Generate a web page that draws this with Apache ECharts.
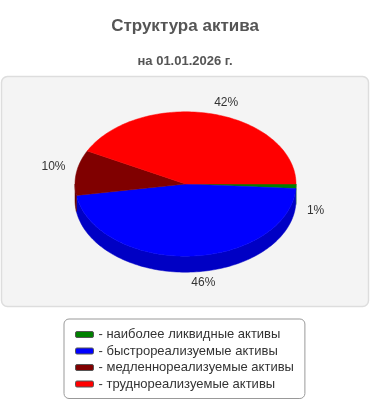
<!DOCTYPE html>
<html><head><meta charset="utf-8">
<script src="https://cdn.jsdelivr.net/npm/echarts@6/dist/echarts.min.js"></script>
<style>html,body{margin:0;padding:0;background:#fff}#c{width:370px;height:400px}</style>
</head><body><div id="c"></div>
<script>
const titleText = 'Структура актива';
const subtitleText = 'на 01.01.2026 г.';
const categories = ['наиболее ликвидные активы', 'быстрореализуемые активы', 'медленнореализуемые активы', 'труднореализуемые активы'];
const values = [1, 46, 10, 42];

const topColors = ['#008000', '#0000ff', '#800000', '#ff0000'];
const sideColors = ['#006400', '#0000c4', '#640000', '#c40000'];
const FONT = '"Liberation Sans", Arial, sans-serif';

const total = values.reduce((a, b) => a + b, 0);
const geo = { cx: 185.5, cy: 184, rx: 110.5, ry: 72.2, depth: 16 };

function pt(deg, dy) {
  const r = deg * Math.PI / 180;
  return [geo.cx + geo.rx * Math.cos(r), geo.cy + geo.ry * Math.sin(r) + (dy || 0)];
}
function arc(a0, a1, dy) {
  const pts = [];
  const n = Math.max(2, Math.ceil((a1 - a0) / 1.5));
  for (let k = 0; k <= n; k++) pts.push(pt(a0 + (a1 - a0) * k / n, dy));
  return pts;
}

function makeRender(i) {
  return function (params, api) {
    const v = api.value(0);
    let before = 0;
    for (let j = 0; j < i; j++) before += values[j];
    const a0 = before / total * 360;
    const a1 = a0 + v / total * 360;
    const children = [];
    const f0 = Math.max(a0, 0), f1 = Math.min(a1, 180);
    if (f1 > f0) {
      const top = arc(f0, f1, 0);
      const bot = arc(f0, f1, geo.depth).reverse();
      children.push({ type: 'polygon', shape: { points: top.concat(bot) },
        style: { fill: sideColors[i], stroke: sideColors[i], lineWidth: 0.5 } });
    }
    const pts = [[geo.cx, geo.cy]].concat(arc(a0, a1, 0));
    children.push({ type: 'polygon', shape: { points: pts },
      style: { fill: topColors[i], stroke: topColors[i], lineWidth: 0.5 } });
    const mid = (a0 + a1) / 2 * Math.PI / 180;
    const c = Math.cos(mid), s = Math.sin(mid);
    const d = 11;
    const lx = geo.cx + (geo.rx + d) * c;
    const ly = geo.cy + (geo.ry + d) * s + (s > 0 ? geo.depth + 8 * (1 - s) : -4 * Math.abs(c));
    children.push({ type: 'text', style: {
      text: Math.round(v / total * 100) + '%', x: lx, y: ly,
      align: c >= 0 ? 'left' : 'right', verticalAlign: 'middle',
      fill: '#333', font: '12px ' + FONT } });
    return { type: 'group', children: children };
  };
}

const series = categories.map((name, i) => ({
  type: 'custom', name: name, coordinateSystem: 'none',
  itemStyle: { color: topColors[i] },
  data: [[values[i]]],
  renderItem: makeRender(i),
  silent: true, animation: false
}));

const chart = echarts.init(document.getElementById('c'), null, { renderer: 'canvas' });
chart.setOption({
  animation: false,
  title: [
    { text: titleText, left: 'center', top: 13,
      textStyle: { fontSize: 17, fontWeight: 'bold', color: '#555', fontFamily: FONT } },
    { text: subtitleText, left: 'center', top: 50,
      textStyle: { fontSize: 13, fontWeight: 'bold', color: '#555', fontFamily: FONT } }
  ],
  graphic: [{
    type: 'rect', z: -10, silent: true,
    shape: { x: 1.5, y: 76.5, width: 367, height: 230, r: 6 },
    style: { fill: '#f4f4f4', stroke: '#dddddd', lineWidth: 1.5 }
  }],
  legend: {
    orient: 'vertical', left: 64, top: 319,
    data: categories,
    icon: 'roundRect', itemWidth: 18, itemHeight: 6, itemGap: 3.5,
    itemStyle: { borderColor: '#555', borderWidth: 1 },
    backgroundColor: '#fff', borderColor: '#999', borderWidth: 1, borderRadius: 5,
    padding: [9, 11, 8, 11],
    formatter: '- {name}',
    textStyle: { fontSize: 13, color: '#333', fontFamily: FONT },
    selectedMode: false
  },
  series: series
});
</script></body></html>
